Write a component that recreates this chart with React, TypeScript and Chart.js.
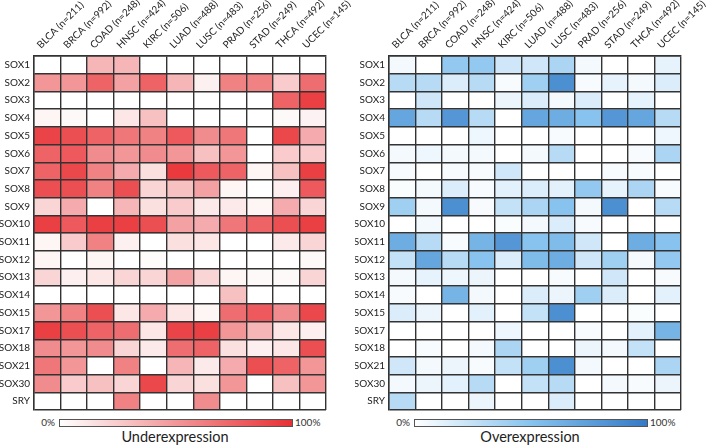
import React, { useEffect, useRef } from 'react';
import { Chart, registerables } from 'chart.js';

Chart.register(...registerables);

const cancers = [
  'BLCA (n=211)', 'BRCA (n=992)', 'COAD (n=248)', 'HNSC (n=424)', 'KIRC (n=506)',
  'LUAD (n=488)', 'LUSC (n=483)', 'PRAD (n=256)', 'STAD (n=249)', 'THCA (n=492)', 'UCEC (n=145)',
];

const genes = [
  'SOX1', 'SOX2', 'SOX3', 'SOX4', 'SOX5', 'SOX6', 'SOX7', 'SOX8', 'SOX9', 'SOX10',
  'SOX11', 'SOX12', 'SOX13', 'SOX14', 'SOX15', 'SOX17', 'SOX18', 'SOX21', 'SOX30', 'SRY',
];

// Fraction of samples (0..1), one row per gene, columns in the order of `cancers`
const underexpression: number[][] = [
  [0, 0, 0.35, 0.35, 0, 0, 0, 0, 0, 0, 0],
  [0.5, 0.5, 0.75, 0.45, 0.75, 0.35, 0.07, 0.6, 0.6, 0.25, 0.7],
  [0, 0, 0, 0, 0, 0, 0, 0, 0, 0.75, 0.92],
  [0.05, 0.03, 0, 0.12, 0.3, 0, 0, 0, 0, 0.03, 0.06],
  [0.9, 0.85, 0.75, 0.65, 0.6, 0.8, 0.55, 0.65, 0, 0.88, 0.4],
  [0.75, 0.8, 0.55, 0.5, 0.55, 0.5, 0.3, 0.5, 0, 0.25, 0.25],
  [0.75, 0.88, 0.6, 0.4, 0.15, 0.95, 0.8, 0.75, 0.05, 0.3, 0.92],
  [0.85, 0.85, 0.6, 0.85, 0.2, 0.3, 0.45, 0.05, 0, 0.08, 0.8],
  [0.2, 0.4, 0, 0.35, 0.15, 0.25, 0.1, 0.1, 0.05, 0.4, 0.2],
  [0.92, 0.8, 0.92, 0.92, 0.85, 0.45, 0.4, 0.65, 0.75, 0.85, 0.92],
  [0.05, 0.25, 0.6, 0.07, 0, 0.15, 0.12, 0, 0, 0.1, 0.2],
  [0.05, 0, 0.05, 0, 0.02, 0, 0, 0, 0, 0, 0.03],
  [0.2, 0.08, 0.12, 0.2, 0.2, 0.45, 0.2, 0.05, 0.03, 0.03, 0.2],
  [0, 0, 0, 0, 0, 0, 0, 0.3, 0, 0, 0],
  [0.5, 0.6, 0.85, 0.12, 0.4, 0.12, 0.05, 0.7, 0.8, 0.55, 0.88],
  [0.92, 0.85, 0.75, 0.7, 0.12, 0.9, 0.92, 0.5, 0.35, 0.12, 0.08],
  [0.55, 0.5, 0.55, 0.2, 0.1, 0.7, 0.75, 0.15, 0.08, 0.12, 0.85],
  [0.65, 0.5, 0, 0.6, 0, 0.35, 0.1, 0.4, 0.85, 0.75, 0.5],
  [0.55, 0.25, 0.3, 0.2, 0.88, 0.2, 0.15, 0.5, 0, 0.3, 0.5],
  [0, 0, 0, 0.6, 0, 0, 0.55, 0, 0, 0, 0],
];

const overexpression: number[][] = [
  [0.05, 0, 0.45, 0.45, 0.2, 0.2, 0.35, 0.05, 0, 0, 0.1],
  [0.3, 0.3, 0.15, 0.3, 0.03, 0.4, 0.85, 0.03, 0.1, 0.05, 0.15],
  [0, 0.2, 0, 0, 0.08, 0.15, 0.05, 0.15, 0, 0.1, 0],
  [0.7, 0.3, 0.8, 0.3, 0, 0.7, 0.65, 0.5, 0.8, 0.7, 0.3],
  [0, 0, 0, 0.07, 0, 0, 0.03, 0, 0, 0, 0.07],
  [0.05, 0.07, 0.05, 0.05, 0, 0.05, 0.3, 0, 0, 0.03, 0.35],
  [0.03, 0, 0.03, 0.03, 0.2, 0, 0, 0, 0.03, 0.03, 0],
  [0.02, 0.05, 0.15, 0.03, 0.12, 0.15, 0.12, 0.45, 0.1, 0.35, 0.03],
  [0.4, 0.05, 0.85, 0.03, 0.25, 0.35, 0.5, 0.05, 0.85, 0, 0.3],
  [0, 0.05, 0, 0, 0.02, 0.05, 0.15, 0.03, 0, 0, 0],
  [0.65, 0.3, 0.03, 0.6, 0.8, 0.5, 0.55, 0.2, 0, 0.65, 0.5],
  [0.25, 0.7, 0.3, 0.5, 0.15, 0.55, 0.65, 0.2, 0.4, 0.05, 0.45],
  [0.05, 0.1, 0.07, 0.08, 0, 0, 0.03, 0, 0.2, 0, 0.03],
  [0.03, 0, 0.6, 0.05, 0, 0.15, 0.08, 0.4, 0.15, 0, 0.12],
  [0.15, 0.08, 0, 0.12, 0, 0.25, 0.85, 0, 0, 0.02, 0],
  [0, 0, 0, 0, 0.07, 0, 0, 0.03, 0, 0.12, 0.6],
  [0, 0.03, 0, 0.05, 0.35, 0, 0, 0.08, 0.05, 0.25, 0],
  [0.2, 0.05, 0.08, 0.03, 0.25, 0.4, 0.85, 0.05, 0, 0, 0.35],
  [0.05, 0.08, 0.12, 0.3, 0, 0.25, 0.3, 0, 0.05, 0.03, 0.08],
  [0.3, 0, 0, 0.08, 0, 0, 0.15, 0, 0, 0, 0],
];

type RGB = [number, number, number];
// colour stops: value 0, 0.5, 1
const RED_STOPS: RGB[] = [[255, 255, 255], [242, 150, 152], [233, 48, 52]];
const BLUE_STOPS: RGB[] = [[255, 255, 255], [135, 195, 238], [52, 122, 198]];
const LINE = '#333333';
const FONT = 'Lato, "Open Sans", sans-serif';

const CANVAS_H = 415;
const AREA_LEFT = 34;
const AREA_RIGHT = 326;
const AREA_TOP = 56;
const AREA_BOTTOM = 410;

function shade(v: number, stops: RGB[]) {
  const t = Math.max(0, Math.min(1, v));
  const [a, b, f] = t <= 0.5 ? [stops[0], stops[1], t / 0.5] : [stops[1], stops[2], (t - 0.5) / 0.5];
  const c = [0, 1, 2].map((k) => Math.round(a[k] + (b[k] - a[k]) * f));
  return `rgb(${c[0]},${c[1]},${c[2]})`;
}

function Heatmap({ values, stops, width, left }: { values: number[][]; stops: RGB[]; width: number; left: number }) {
  const ref = useRef<HTMLCanvasElement | null>(null);
  useEffect(() => {
    if (!ref.current) return;
    const chart = new Chart(ref.current, {
      type: 'bar',
      data: {
        labels: cancers,
        datasets: genes.map((g, i) => ({
          label: g,
          data: cancers.map(() => 1),
          backgroundColor: values[i].map((v) => shade(v, stops)),
          borderWidth: 0,
          barPercentage: 1,
          categoryPercentage: 1,
          xAxisID: 'x',
          yAxisID: 'y',
        })),
      },
      options: {
        responsive: false,
        animation: false,
        events: [],
        layout: { padding: { left: 0, top: 0, right: width - AREA_RIGHT, bottom: CANVAS_H - AREA_BOTTOM } },
        plugins: { legend: { display: false }, tooltip: { enabled: false } },
        scales: {
          x: {
            type: 'category',
            position: 'top',
            stacked: true,
            offset: true,
            grid: { offset: true, color: LINE, lineWidth: 1.4, drawTicks: false, z: 1 },
            border: { color: LINE, width: 1.4, z: 1 },
            ticks: { minRotation: 45, maxRotation: 45, padding: 5, autoSkip: false, color: '#222', font: { family: FONT, size: 10 } },
            afterFit: (s: any) => { s.height = AREA_TOP; s.paddingLeft = 0; s.paddingRight = 0; },
          },
          y: { type: 'linear', display: false, stacked: true, min: 0, max: 20, reverse: true },
          yLabels: {
            type: 'category',
            labels: genes,
            position: 'left',
            offset: true,
            bounds: 'ticks',
            grid: { offset: true, color: LINE, lineWidth: 1.4, drawTicks: false, z: 1 },
            border: { color: LINE, width: 1.4, z: 1 },
            ticks: { padding: 4, autoSkip: false, color: '#222', font: { family: FONT, size: 10 } },
            afterFit: (s: any) => { s.width = AREA_LEFT; s.paddingTop = 0; s.paddingBottom = 0; },
          },
        } as any,
      },
    });
    return () => chart.destroy();
  }, []);
  return (
    <canvas
      ref={ref}
      width={width}
      height={CANVAS_H}
      style={{ position: 'absolute', left, top: 0, width, height: CANVAS_H }}
    />
  );
}

function ColorBar({ left, stops, title }: { left: number; stops: RGB[]; title: string }) {
  const barLeft = left + 59;
  const barW = 232;
  return (
    <>
      <div style={{ position: 'absolute', left: barLeft - 40, width: 36, top: 416, textAlign: 'right', font: `10px ${FONT}`, color: '#333' }}>0%</div>
      <div
        style={{
          position: 'absolute', left: barLeft, top: 419, width: barW, height: 6,
          border: '1px solid #555',
          background: `linear-gradient(to right, ${shade(0, stops)}, ${shade(0.5, stops)}, ${shade(1, stops)})`,
        }}
      />
      <div style={{ position: 'absolute', left: barLeft + barW + 4, top: 416, font: `10px ${FONT}`, color: '#333' }}>100%</div>
      <div style={{ position: 'absolute', left: barLeft, width: barW, top: 428, textAlign: 'center', font: `14.5px ${FONT}`, color: '#222' }}>{title}</div>
    </>
  );
}

export default function App() {
  return (
    <div style={{ position: 'absolute', left: 0, top: 0, width: 711, height: 445, background: '#fff', overflow: 'hidden' }}>
      <Heatmap values={underexpression} stops={RED_STOPS} width={380} left={0} />
      <Heatmap values={overexpression} stops={BLUE_STOPS} width={356} left={355} />
      <ColorBar left={0} stops={RED_STOPS} title="Underexpression" />
      <ColorBar left={355} stops={BLUE_STOPS} title="Overexpression" />
    </div>
  );
}
